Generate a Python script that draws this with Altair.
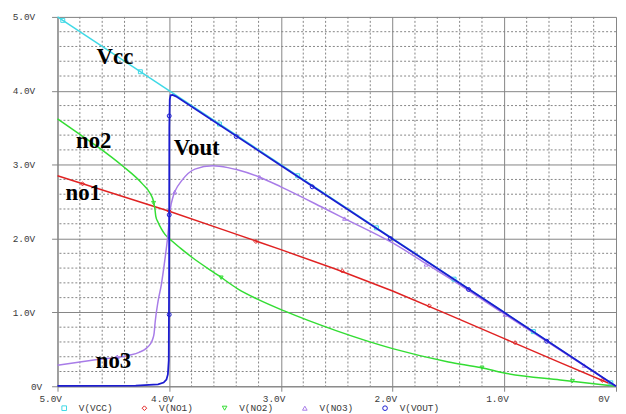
import altair as alt
import pandas as pd

# ---------------- data (x = swept voltage, y = node voltage) ----------------
vcc_x = [5.0, 0.0]
vcc_y = [5.0, 0.0]

no1_x = [5.0, 4.5, 4.0, 3.5, 3.0, 2.5, 2.0, 1.5, 1.0, 0.5, 0.0]
no1_y = [2.85, 2.61, 2.37, 2.11, 1.85, 1.58, 1.29, 0.97, 0.645, 0.32, 0.0]

no2_x = [5.0, 4.8, 4.63, 4.42, 4.24, 4.17, 4.14, 4.128, 4.12, 4.1, 4.07, 4.04, 4.0,
         3.9, 3.8, 3.56, 3.387, 3.21, 2.97, 2.5, 2.0, 1.5, 1.2, 1.0, 0.5, 0.2, 0.0]
no2_y = [3.62, 3.41, 3.23, 2.985, 2.74, 2.61, 2.5, 2.4, 2.3, 2.22, 2.13, 2.06, 2.0,
         1.87, 1.75, 1.5, 1.32, 1.18, 1.02, 0.75, 0.51, 0.33, 0.25, 0.18, 0.085, 0.035, 0.0]

no3_x = [5.0, 4.66, 4.36, 4.27, 4.2, 4.17, 4.15, 4.135, 4.125, 4.1, 4.07, 4.04, 4.015,
         3.99, 3.965, 3.945, 3.89, 3.77, 3.61, 3.475, 3.39, 3.19, 3.0, 2.6, 2.43,
         2.0, 1.7, 1.5, 1.0, 0.5, 0.0]
no3_y = [0.285, 0.36, 0.42, 0.46, 0.52, 0.57, 0.63, 0.72, 0.88, 1.15, 1.38, 1.7, 2.0,
         2.4, 2.57, 2.65, 2.78, 2.94, 2.985, 2.96, 2.93, 2.83, 2.70, 2.40, 2.27,
         1.94, 1.66, 1.47, 0.98, 0.49, 0.0]

vout_x = [5.0, 4.3, 4.1, 4.05, 4.025, 4.012, 4.004, 4.001, 3.999, 3.995, 3.988, 3.97,
          3.94, 3.0, 2.0, 1.0, 0.0]
vout_y = [0.005, 0.01, 0.025, 0.05, 0.09, 0.16, 0.35, 1.5, 3.5, 3.88, 3.94, 3.945,
          3.925, 2.99, 1.995, 0.998, 0.0]

# trace markers
m_vcc_x = [4.953, 4.258, 3.55, 2.85, 2.145, 1.45, 0.74, 0.047]
m_vcc_y = [4.953, 4.258, 3.55, 2.85, 2.145, 1.45, 0.74, 0.047]
m_no1_x = [4.776, 4.0, 3.224, 2.45, 1.673, 0.904, 0.124]
m_no1_y = [2.74, 2.37, 1.96, 1.56, 1.09, 0.59, 0.08]
m_no2_x = [4.14, 3.535, 1.2, 0.39]
m_no2_y = [2.48, 1.47, 0.25, 0.07]
m_no3_x = [4.465, 3.95, 3.19, 2.43, 1.70, 0.993, 0.284]
m_no3_y = [0.40, 2.63, 2.83, 2.27, 1.65, 0.97, 0.28]
m_vout_x = [4.0, 4.0, 4.0, 3.40, 2.72, 2.02, 1.32, 0.62]
m_vout_y = [3.66, 2.32, 0.97, 3.38, 2.70, 2.0, 1.31, 0.61]

series_names = ["V(VCC)", "V(NO1)", "V(NO2)", "V(NO3)", "V(VOUT)"]
series_colors = ["#3fd9e6", "#e02222", "#33dd33", "#a87ce8", "#1c1cd0"]
series_shapes = ["square", "diamond", "triangle-down", "triangle-up", "circle"]

# in-plot labels
lab_text = ["Vcc", "Vout", "no2", "no1", "no3"]
lab_x = [4.486, 3.754, 4.676, 4.77, 4.499]
lab_y = [4.364, 3.133, 3.226, 2.517, 0.241]

major_ticks = [5.0, 4.0, 3.0, 2.0, 1.0, 0.0]
minor_ticks = [0.2, 0.4, 0.6, 0.8, 1.2, 1.4, 1.6, 1.8, 2.2, 2.4, 2.6, 2.8,
               3.2, 3.4, 3.6, 3.8, 4.2, 4.4, 4.6, 4.8]

# ---------------- chart ----------------
GRID = "#858585"
LABEL = "#3a3a3a"
MONO = "Liberation Mono"

xs = alt.Scale(domain=[5, 0], nice=False, zero=False)
ys = alt.Scale(domain=[0, 5], nice=False, zero=False)

fmt = "datum.value == 0 ? '0V' : format(datum.value, '.1f') + 'V'"

x_axis = alt.Axis(values=major_ticks, title=None, labelExpr=fmt, grid=True,
                  gridColor=GRID, gridWidth=1, domainColor=GRID, tickColor=GRID,
                  tickSize=5, labelFont=MONO, labelFontSize=9.5, labelColor=LABEL,
                  labelFlush=False, labelOverlap=False, labelAlign="right",
                  labelOffset={"condition": {"test": "datum.value != 0", "value": 4}, "value": -7},
                  labelPadding=2)
y_axis = alt.Axis(values=major_ticks, title=None, labelExpr=fmt, grid=True,
                  gridColor=GRID, gridWidth=1, domainColor=GRID, tickColor=GRID,
                  tickSize=6, labelFont=MONO, labelFontSize=9.5, labelColor=LABEL,
                  labelFlush=False, labelOverlap=False, labelAlign="right",
                  labelPadding={"condition": {"test": "datum.value != 0", "value": 17}, "value": 10})

X = lambda f: alt.X(f, scale=xs, axis=x_axis)
Y = lambda f: alt.Y(f, scale=ys, axis=y_axis)

minor_df = pd.DataFrame({"v": minor_ticks})
vgrid = alt.Chart(minor_df).mark_rule(color=GRID, strokeDash=[2, 2], strokeWidth=1).encode(
    x=X("v:Q"))
hgrid = alt.Chart(minor_df).mark_rule(color=GRID, strokeDash=[2, 2], strokeWidth=1).encode(
    y=Y("v:Q"))


def trace(xv, yv, color, width=1.5, interp="linear"):
    df = pd.DataFrame({"x": xv, "y": yv, "i": list(range(len(xv)))})
    return alt.Chart(df).mark_line(color=color, strokeWidth=width, interpolate=interp).encode(
        x=X("x:Q"), y=Y("y:Q"), order="i:Q")


l_vcc = trace(vcc_x, vcc_y, series_colors[0])
l_no1 = trace(no1_x, no1_y, series_colors[1])
l_no2 = trace(no2_x, no2_y, series_colors[2], interp="monotone")
l_no3 = trace(no3_x, no3_y, series_colors[3], interp="monotone")
l_vout = trace(vout_x, vout_y, series_colors[4], width=1.8)

mk = []
for name, mx, my in zip(series_names, [m_vcc_x, m_no1_x, m_no2_x, m_no3_x, m_vout_x],
                        [m_vcc_y, m_no1_y, m_no2_y, m_no3_y, m_vout_y]):
    for a, b in zip(mx, my):
        mk.append({"s": name, "x": a, "y": b})
mk_df = pd.DataFrame(mk)

legend = alt.Legend(title=None, orient="none", direction="horizontal", legendX=2, legendY=390,
                    labelFont=MONO, labelFontSize=9.5, labelColor=LABEL, symbolSize=22,
                    symbolStrokeWidth=1, labelOffset=10, columnPadding=27, padding=0)
markers = alt.Chart(mk_df).mark_point(filled=False, size=16, strokeWidth=1, opacity=1).encode(
    x=X("x:Q"), y=Y("y:Q"),
    color=alt.Color("s:N", scale=alt.Scale(domain=series_names, range=series_colors), legend=legend),
    shape=alt.Shape("s:N", scale=alt.Scale(domain=series_names, range=series_shapes), legend=legend),
)

lab_df = pd.DataFrame({"t": lab_text, "x": lab_x, "y": lab_y})
labels = alt.Chart(lab_df).mark_text(font="Liberation Serif", fontWeight="bold", fontSize=23,
                                     color="#000000", align="center", baseline="alphabetic").encode(
    x=X("x:Q"), y=Y("y:Q"), text="t:N")

chart = alt.layer(vgrid, hgrid, l_vcc, l_no1, l_no2, l_no3, markers, l_vout, labels).properties(
    width=564, height=373,
    autosize=alt.AutoSizeParams(type="none"),
    padding={"left": 50, "top": 7, "right": 2, "bottom": 28},
).configure_view(stroke=GRID, strokeWidth=1).configure(background="white")

chart.save("out.html", embed_options={"renderer": "svg", "actions": False})
